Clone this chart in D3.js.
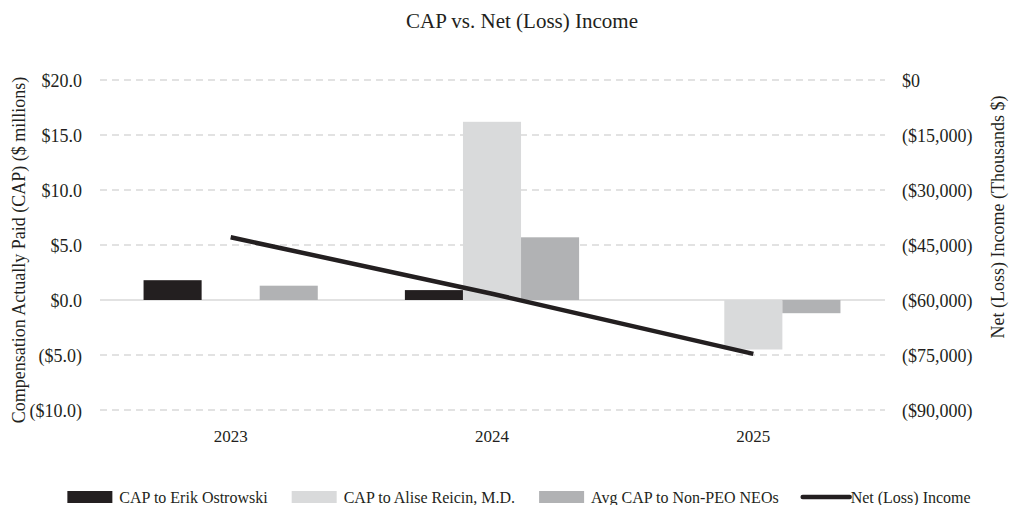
<!DOCTYPE html>
<html>
<head>
<meta charset="utf-8">
<script src="https://cdn.jsdelivr.net/npm/d3@7"></script>
<style>
  body { margin: 0; background: #fff; }
  svg text { font-family: "Liberation Serif", "Times New Roman", serif; fill: #231f20; }
</style>
</head>
<body>
<div id="chart"></div>
<script>
// chart data
var years = ["2023", "2024", "2025"];
var capOstrowski = [1.8, 0.9, null];
var capReicin = [null, 16.2, -4.5];
var avgCapNonPeo = [1.3, 5.7, -1.2];
var netIncome = [-42900, -58300, -74700];   // thousands $

var leftTicks = [-10, -5, 0, 5, 10, 15, 20];
var rightTicks = [-90000, -75000, -60000, -45000, -30000, -15000, 0];

var seriesNames = ["CAP to Erik Ostrowski", "CAP to Alise Reicin, M.D.", "Avg CAP to Non-PEO NEOs"];
var seriesValues = [capOstrowski, capReicin, avgCapNonPeo];
var seriesColors = ["#231f20", "#d9dadb", "#b1b2b4"];
var lineName = "Net (Loss) Income";

// dimensions
var W = 1010, H = 505;
var margin = {top: 80, right: 126, bottom: 95, left: 100};
var width = W - margin.left - margin.right,
    height = H - margin.top - margin.bottom;

var svg = d3.select("#chart")
  .append("svg")
    .attr("width", W)
    .attr("height", H);

var g = svg.append("g")
  .attr("transform", "translate(" + margin.left + "," + margin.top + ")");

// scales
var x0 = d3.scaleBand().domain(years).range([0, width]);
var bw = x0.bandwidth();
var x1 = d3.scaleBand().domain(d3.range(seriesNames.length)).range([bw / 6, bw * 5 / 6]);
var yL = d3.scaleLinear().domain([-10, 20]).range([height, 0]);
var yR = d3.scaleLinear().domain([-90000, 0]).range([height, 0]);

// gridlines
g.selectAll("line.grid")
  .data(leftTicks)
  .enter()
  .append("line")
    .attr("class", "grid")
    .attr("x1", 0)
    .attr("x2", width + 1)
    .attr("y1", function(d) { return yL(d); })
    .attr("y2", function(d) { return yL(d); })
    .attr("stroke", "#d9d9d9")
    .attr("stroke-width", 1.3)
    .attr("stroke-dasharray", function(d) { return d === 0 ? null : "7,5"; });

// left axis
var fmtL = function(v) {
  return v < 0 ? "($" + Math.abs(v).toFixed(1) + ")" : "$" + v.toFixed(1);
};
var axL = g.append("g")
  .call(d3.axisLeft(yL).tickValues(leftTicks).tickFormat(fmtL).tickSize(0).tickPadding(18));
axL.select(".domain").remove();
axL.selectAll("text").attr("font-size", 18).attr("font-family", null).attr("dy", "0.35em");

// right axis
var fmtR = function(v) {
  return v === 0 ? "$0" : "($" + d3.format(",")(Math.abs(v)) + ")";
};
var axR = g.append("g")
  .attr("transform", "translate(" + width + ",0)")
  .call(d3.axisRight(yR).tickValues(rightTicks).tickFormat(fmtR).tickSize(0).tickPadding(18));
axR.select(".domain").remove();
axR.selectAll("text").attr("font-size", 18).attr("font-family", null).attr("dy", "0.35em");

// x axis labels
var axX = g.append("g")
  .attr("transform", "translate(0," + height + ")")
  .call(d3.axisBottom(x0).tickSize(0).tickPadding(20));
axX.select(".domain").remove();
axX.selectAll("text").attr("font-size", 17).attr("font-family", null);

// bars
var barData = [];
years.forEach(function(yr, i) {
  seriesValues.forEach(function(vals, s) {
    if (vals[i] !== null) barData.push({year: yr, s: s, value: vals[i]});
  });
});

g.selectAll("rect.bar")
  .data(barData)
  .enter()
  .append("rect")
    .attr("class", "bar")
    .attr("x", function(d) { return x0(d.year) + x1(d.s); })
    .attr("width", x1.bandwidth())
    .attr("y", function(d) { return yL(Math.max(0, d.value)); })
    .attr("height", function(d) { return Math.abs(yL(d.value) - yL(0)); })
    .attr("fill", function(d) { return seriesColors[d.s]; });

// net income line (right axis)
var line = d3.line()
  .x(function(d, i) { return x0(years[i]) + bw / 2; })
  .y(function(d) { return yR(d); });

g.append("path")
  .datum(netIncome)
  .attr("d", line)
  .attr("fill", "none")
  .attr("stroke", "#231f20")
  .attr("stroke-width", 4.5);

// title
svg.append("text")
  .attr("x", 522)
  .attr("y", 28)
  .attr("text-anchor", "middle")
  .attr("font-size", 21)
  .text("CAP vs. Net (Loss) Income");

// axis titles
svg.append("text")
  .attr("transform", "translate(25,250) rotate(-90)")
  .attr("text-anchor", "middle")
  .attr("font-size", 18)
  .text("Compensation Actually Paid (CAP) ($ millions)");

svg.append("text")
  .attr("transform", "translate(1004,217) rotate(-90)")
  .attr("text-anchor", "middle")
  .attr("font-size", 18)
  .text("Net (Loss) Income (Thousands $)");

// legend
var legend = svg.append("g");
var lx = 0;
var items = seriesNames.map(function(n, i) { return {name: n, color: seriesColors[i], type: "bar"}; });
items.push({name: lineName, color: "#231f20", type: "line"});

items.forEach(function(it, i) {
  var item = legend.append("g").attr("transform", "translate(" + lx + ",0)");
  if (it.type === "bar") {
    item.append("rect")
      .attr("x", 0).attr("y", -12)
      .attr("width", 45).attr("height", 12)
      .attr("fill", it.color);
  } else {
    item.append("line")
      .attr("x1", 0).attr("x2", 47)
      .attr("y1", -6).attr("y2", -6)
      .attr("stroke", it.color)
      .attr("stroke-width", 4.5)
      .attr("stroke-linecap", "round");
  }
  var tx = it.type === "bar" ? 52 : 48;
  var t = item.append("text")
    .attr("x", tx)
    .attr("y", 0)
    .attr("font-size", 16)
    .text(it.name);
  lx += tx + t.node().getComputedTextLength() + 24;
});
var legW = lx - 24;
legend.attr("transform", "translate(" + (519 - legW / 2) + ",503)");
</script>
</body>
</html>
